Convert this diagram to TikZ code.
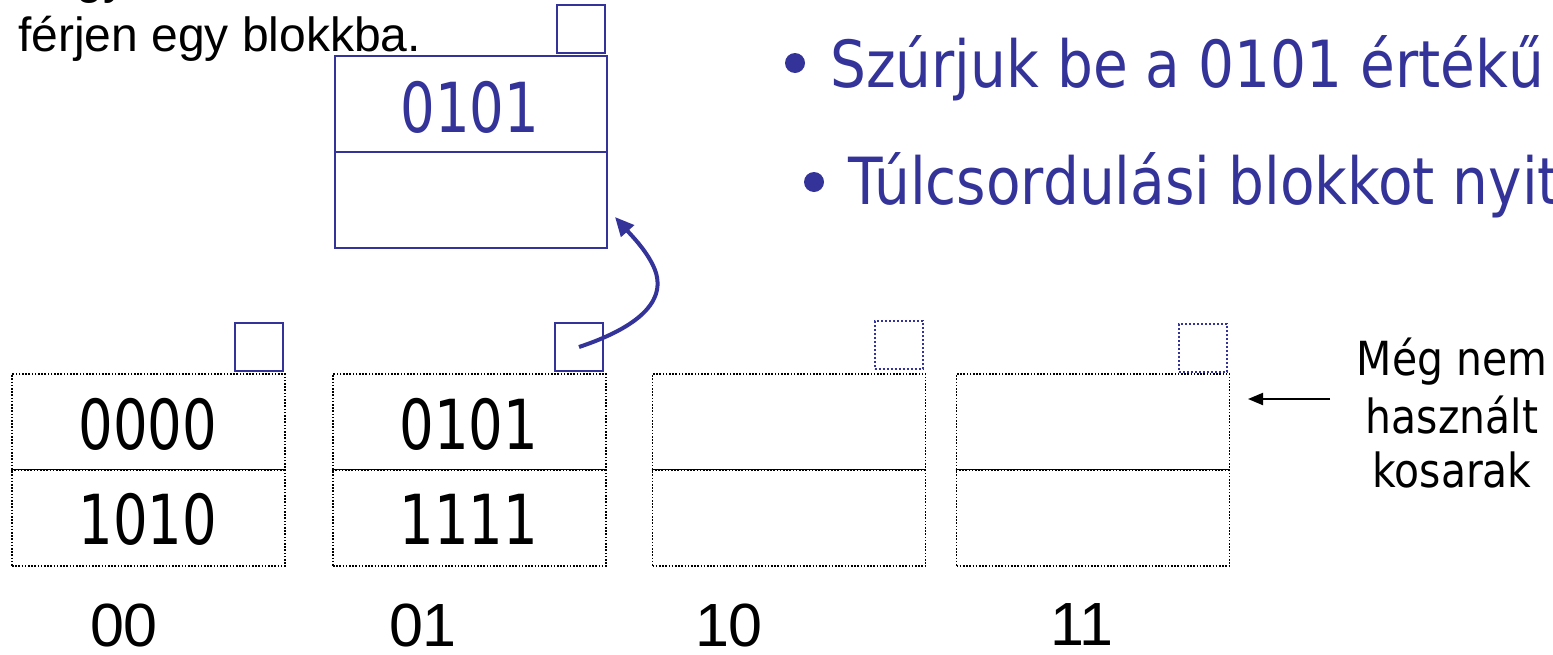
\documentclass[tikz,border=0pt]{standalone}
\usepackage{fontspec}
\setmainfont{DejaVu Sans}[FakeStretch=0.87]
\newfontfamily\numfont{DejaVu Sans}[FakeStretch=0.79]
\newfontfamily\arialfont{Liberation Sans}
\usetikzlibrary{arrows.meta}
\definecolor{slideblue}{RGB}{51,51,153}

\begin{document}
\begin{tikzpicture}[x=1pt,y=-1pt,
  bucket/.style={draw=black, line width=1.6pt, dash pattern=on 1.6pt off 1.6pt,
    minimum width=273pt, minimum height=192pt, inner sep=0pt},
  ovblock/.style={draw=slideblue, line width=2pt, minimum width=272pt,
    minimum height=192pt, inner sep=0pt},
  ptr/.style={draw=slideblue, line width=2pt, minimum size=48pt, inner sep=0pt},
  ptrdot/.style={ptr, dash pattern=on 2pt off 2pt},
  divider/.style={black, line width=1.6pt, dash pattern=on 1.6pt off 1.6pt},
  key/.style={font=\numfont\fontsize{69}{69}\selectfont, inner sep=0pt},
  label/.style={font=\arialfont\fontsize{61}{61}\selectfont, inner sep=0pt,
    text depth=0pt},
  note/.style={font=\fontsize{47}{47}\selectfont, inner sep=0pt, anchor=base},
  bullettext/.style={font=\fontsize{65}{65}\selectfont, text=slideblue,
    inner sep=0pt, anchor=base west},
  dot/.style={circle, fill=slideblue, minimum size=20pt, inner sep=0pt},
  remark/.style={font=\arialfont\fontsize{48}{48}\selectfont, inner sep=0pt,
    anchor=base west},
]
\useasboundingbox (0,0) rectangle (1553,654);
\clip (0,0) rectangle (1553,654);

% top-left remark
\node[remark] (rem0) at (50,-7) {egy};
\node[remark] (rem1) at (18,51) {férjen egy blokkba.};

% bullet points
\node[dot] (d1) at (795,63) {};
\node[bullettext] (t1) at (830,87) {Szúrjuk be a 0101 értékű};
\node[dot] (d2) at (814,182) {};
\node[bullettext] (t2) at (848,204) {Túlcsordulási blokkot nyit};

% overflow block
\node[ovblock] (ov) at (471,152) {};
\draw[slideblue, line width=2pt] (ov.west) -- (ov.east);
\node[ptr] (ovp) at (581,29) {};
\node[key, text=slideblue] (ovk) at (470,107) {0101};

% buckets
\node[bucket] (b0) at (148.5,470) {};
\node[bucket] (b1) at (469.5,470) {};
\node[bucket] (b2) at (789,470) {};
\node[bucket] (b3) at (1093,470) {};
\foreach \b in {b0,b1,b2,b3}{
  \draw[divider] (\b.west) -- (\b.east);
  \draw[black, line width=0.8pt] ([yshift=0.4pt]\b.west) -- ([yshift=0.4pt]\b.east);
}

% bucket pointers
\node[ptr] (p0) at (258.5,347) {};
\node[ptr] (p1) at (579,347) {};
\node[ptrdot] (p2) at (898.5,345) {};
\node[ptrdot] (p3) at (1203,348) {};

% keys
\node[key] (k00) at (148,424) {0000};
\node[key] (k01) at (148,519) {1010};
\node[key] (k10) at (469,424) {0101};
\node[key] (k11) at (469,519) {1111};

% bucket labels
\node[label] (l0) at (124,625) {00};
\node[label] (l1) at (423,625) {01};
\node[label] (l2) at (729,625) {10};
\node[label] (l3) at (1082,625) {11};

% overflow pointer
\coordinate (ovin) at (615,217);
\draw[slideblue, line width=4pt, -{Triangle[length=19pt,width=17pt]}]
  (p1.center) .. controls (630,330) and (668,305) .. (655,270)
  .. controls (648,252) and (632,236) .. (ovin);

% unused buckets note
\node[note] (n1) at (1452,375) {Még nem};
\node[note] (n2) at (1452,433) {használt};
\node[note] (n3) at (1452,487) {kosarak};
\coordinate (nstart) at (1330,399);
\coordinate (nend) at (1248,399);
\draw[black, line width=2pt, -{Triangle[length=15pt,width=12pt]}] (nstart) -- (nend);
\end{tikzpicture}
\end{document}
